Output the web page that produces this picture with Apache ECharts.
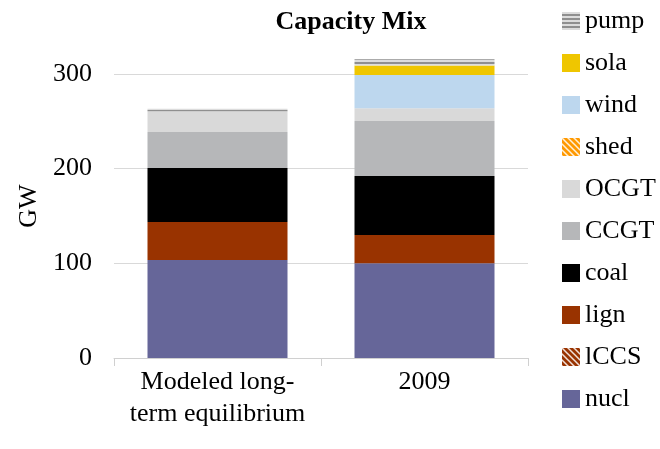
<!doctype html>
<html lang="en">
<head>
    <meta charset="UTF-8">
    <title>Capacity Mix</title>
    <style>
        html, body { margin: 0; padding: 0; background: #fff; }
        #main { width: 660px; height: 449px; }
    </style>
</head>
<body>
    <div id="main"></div>
</body>
<script src="https://cdn.jsdelivr.net/npm/echarts@6/dist/echarts.min.js"></script>
<script type="text/javascript">
    // 类别和数据 (GW)
    const categories = ['Modeled long-\nterm equilibrium', '2009']
    const seriesNames = ['nucl', 'lCCS', 'lign', 'coal', 'CCGT', 'OCGT', 'shed', 'wind', 'sola', 'pump']
    const nucl = [103.5, 100]
    const lCCS = [0, 0]
    const lign = [40.2, 30]
    const coal = [57, 62.3]
    const CCGT = [38, 58]
    const OCGT = [22, 13.4]
    const shed = [0, 0]
    const wind = [0, 35.2]
    const sola = [0, 10]
    const pump = [2.5, 6.7]
    const yTicks = [0, 100, 200, 300]

    const seriesData = [nucl, lCCS, lign, coal, CCGT, OCGT, shed, wind, sola, pump]

    // 斜线填充
    function hatch(base) {
        const c = document.createElement('canvas')
        c.width = 6; c.height = 6
        const ctx = c.getContext('2d')
        ctx.fillStyle = base
        ctx.fillRect(0, 0, 6, 6)
        ctx.strokeStyle = 'rgba(255,255,255,0.85)'
        ctx.lineWidth = 1.5
        ctx.beginPath()
        ctx.moveTo(-1, -1); ctx.lineTo(7, 7)
        ctx.moveTo(-4, 2); ctx.lineTo(2, 8)
        ctx.moveTo(2, -4); ctx.lineTo(8, 2)
        ctx.stroke()
        return { image: c, repeat: 'repeat' }
    }
    // 横线填充
    function stripes() {
        const c = document.createElement('canvas')
        c.width = 4; c.height = 4
        const ctx = c.getContext('2d')
        ctx.fillStyle = '#dcdcdc'
        ctx.fillRect(0, 0, 4, 4)
        ctx.fillStyle = '#8f8f8f'
        ctx.fillRect(0, 2, 4, 2)
        return { image: c, repeat: 'repeat' }
    }

    const colors = {
        nucl: '#666699',
        lCCS: hatch('#993300'),
        lign: '#993300',
        coal: '#000000',
        CCGT: '#b6b7b9',
        OCGT: '#d9d9d9',
        shed: hatch('#ff9900'),
        wind: '#bdd7ee',
        sola: '#efc600',
        pump: stripes()
    }

    const font = 'Liberation Serif'
    const myChart = echarts.init(document.getElementById('main'))

    const option = {
        animation: false,
        title: {
            text: 'Capacity Mix',
            left: 346,
            top: 4,
            textAlign: 'center',
            textStyle: { fontFamily: font, fontSize: 26, fontWeight: 'bold', color: '#000' }
        },
        legend: {
            orient: 'vertical',
            left: 557,
            top: 3,
            itemWidth: 18,
            itemHeight: 18,
            itemGap: 16,
            icon: 'rect',
            data: seriesNames.slice().reverse(),
            textStyle: { fontFamily: font, fontSize: 26, color: '#000' }
        },
        grid: { left: 114, right: 132, top: 74, bottom: 91 },
        xAxis: {
            type: 'category',
            data: categories,
            axisLine: { lineStyle: { color: '#d0d0d0', width: 1 } },
            axisTick: { show: true, length: 8, lineStyle: { color: '#d0d0d0' } },
            axisLabel: { interval: 0, fontFamily: font, fontSize: 26, color: '#000', lineHeight: 32, margin: 8 }
        },
        yAxis: {
            type: 'value',
            min: yTicks[0],
            max: yTicks[yTicks.length - 1],
            interval: 100,
            name: 'GW',
            nameLocation: 'middle',
            nameGap: 71,
            nameTextStyle: { fontFamily: font, fontSize: 26, color: '#000', padding: [0, 0, 0, 20] },
            axisLine: { show: false },
            axisTick: { show: false },
            axisLabel: { fontFamily: font, fontSize: 26, color: '#000', margin: 22 },
            splitLine: { lineStyle: { color: '#d9d9d9', width: 1 } }
        },
        series: seriesNames.map((name, i) => ({
            name: name,
            type: 'bar',
            stack: 'cap',
            barWidth: 140,
            clip: false,
            data: seriesData[i],
            itemStyle: { color: colors[name] }
        }))
    }
    myChart.setOption(option)
</script>
</html>
